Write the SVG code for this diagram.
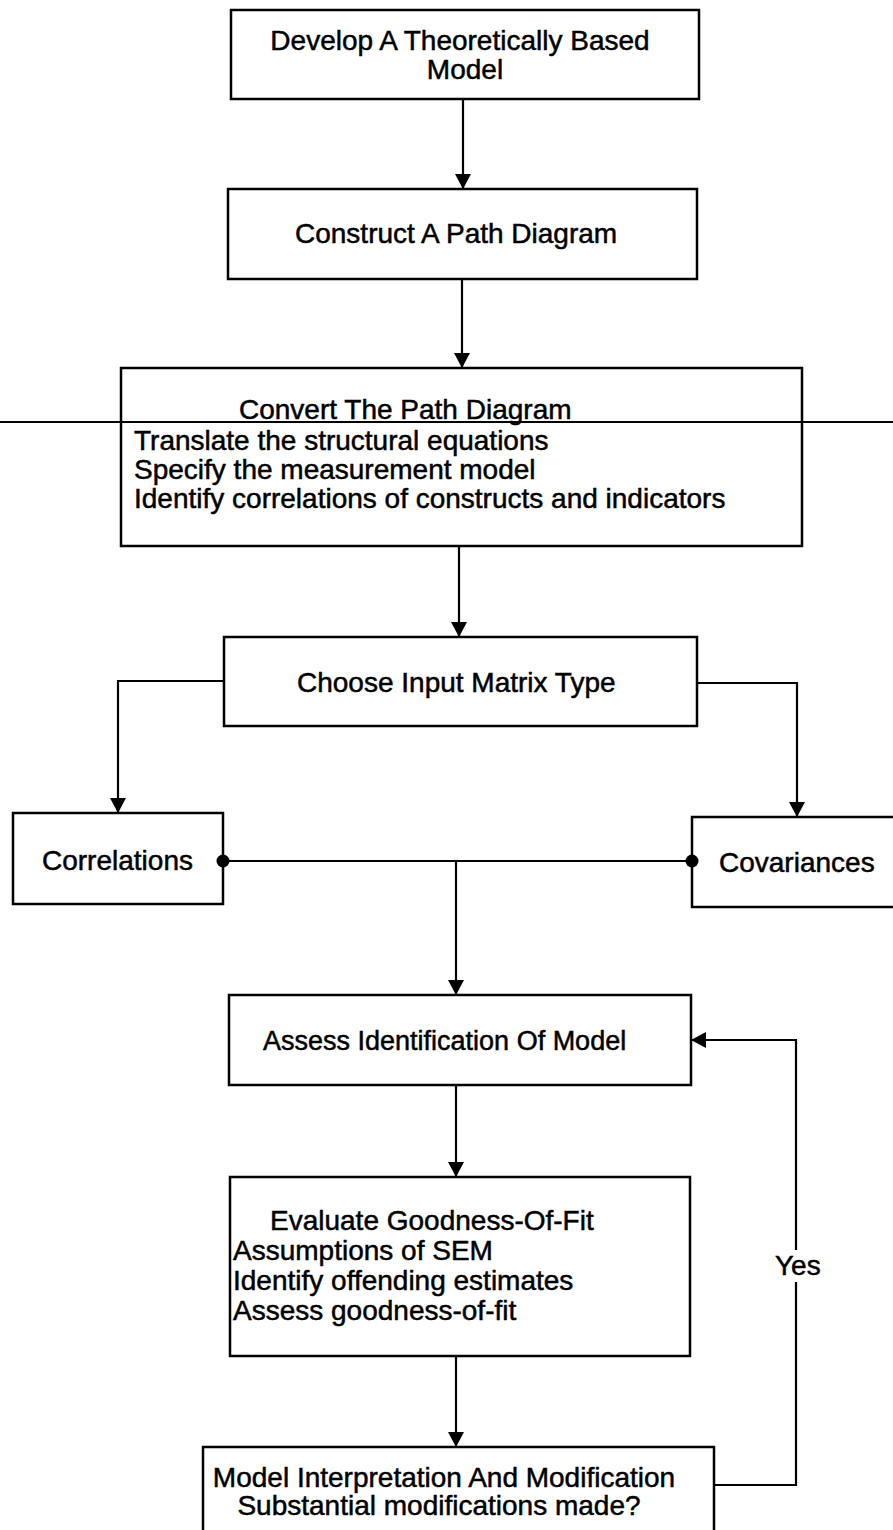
<svg xmlns="http://www.w3.org/2000/svg" width="893" height="1530" viewBox="0 0 893 1530">
  <style>
    .box { fill: #ffffff; stroke: #000000; stroke-width: 2.5; }
    .lbl { font-family: "Liberation Sans", Arial, sans-serif; font-size: 28px; fill: #000000; stroke: #000000; stroke-width: 0.5; }
    .mid { text-anchor: middle; }
    .wire { fill: none; stroke: #000000; stroke-width: 2.2; }
    .dot { fill: #000000; }
  </style>
  <defs>
    <marker id="head" markerUnits="userSpaceOnUse" markerWidth="15" markerHeight="16" refX="15" refY="8" orient="auto">
      <path d="M0,0 L15,8 L0,16 z" fill="#000000"/>
    </marker>
  </defs>

  <rect width="893" height="1530" fill="#ffffff"/>

  <!-- step boxes -->
  <g id="develop-model">
    <rect class="box" x="231" y="10" width="468" height="89"/>
    <text class="lbl mid" x="460" y="50">Develop A Theoretically Based</text>
    <text class="lbl mid" x="465" y="79">Model</text>
  </g>

  <g id="construct-path-diagram">
    <rect class="box" x="228" y="189" width="469" height="90"/>
    <text class="lbl" x="295" y="243">Construct A Path Diagram</text>
  </g>

  <g id="convert-path-diagram">
    <rect class="box" x="121" y="368" width="681" height="178"/>
    <line class="wire" x1="0" y1="422" x2="893" y2="422"/>
    <text class="lbl" x="239" y="419">Convert The Path Diagram</text>
    <text class="lbl" x="134" y="450">Translate the structural equations</text>
    <text class="lbl" x="134" y="479">Specify the measurement model</text>
    <text class="lbl" x="134" y="508">Identify correlations of constructs and indicators</text>
  </g>

  <g id="choose-input-matrix">
    <rect class="box" x="224" y="637" width="473" height="89"/>
    <text class="lbl" x="297" y="692">Choose Input Matrix Type</text>
  </g>

  <g id="correlations">
    <rect class="box" x="13" y="813" width="210" height="91"/>
    <text class="lbl" x="42" y="870">Correlations</text>
  </g>

  <g id="covariances">
    <rect class="box" x="692" y="817" width="220" height="90"/>
    <text class="lbl" x="719" y="872">Covariances</text>
  </g>

  <g id="assess-identification">
    <rect class="box" x="229" y="995" width="462" height="90"/>
    <text class="lbl" x="263" y="1050" style="font-size:27px">Assess Identification Of Model</text>
  </g>

  <g id="evaluate-fit">
    <rect class="box" x="230" y="1177" width="460" height="179"/>
    <text class="lbl" x="270" y="1230">Evaluate Goodness-Of-Fit</text>
    <text class="lbl" x="233" y="1260">Assumptions of SEM</text>
    <text class="lbl" x="233" y="1290">Identify offending estimates</text>
    <text class="lbl" x="233" y="1320">Assess goodness-of-fit</text>
  </g>

  <g id="interpretation-modification">
    <rect class="box" x="203" y="1447" width="511" height="100"/>
    <text class="lbl mid" x="444" y="1487">Model Interpretation And Modification</text>
    <text class="lbl mid" x="439" y="1515">Substantial modifications made?</text>
  </g>

  <!-- connectors -->
  <g id="connectors">
    <path class="wire" d="M463,99 V189" marker-end="url(#head)"/>
    <path class="wire" d="M462,279 V368" marker-end="url(#head)"/>
    <path class="wire" d="M459,546 V637" marker-end="url(#head)"/>
    <path class="wire" d="M224,681 H118 V813" marker-end="url(#head)"/>
    <path class="wire" d="M697,683 H797 V817" marker-end="url(#head)"/>
    <path class="wire" d="M223,861 H692"/>
    <circle class="dot" cx="223" cy="861" r="6.5"/>
    <circle class="dot" cx="692" cy="861" r="6.5"/>
    <path class="wire" d="M456,861 V995" marker-end="url(#head)"/>
    <path class="wire" d="M456,1085 V1177" marker-end="url(#head)"/>
    <path class="wire" d="M456,1356 V1447" marker-end="url(#head)"/>
    <path class="wire" d="M714,1485 H796 V1282"/>
    <path class="wire" d="M796,1250 V1040 H691" marker-end="url(#head)"/>
    <text class="lbl" x="775" y="1275">Yes</text>
  </g>
</svg>
